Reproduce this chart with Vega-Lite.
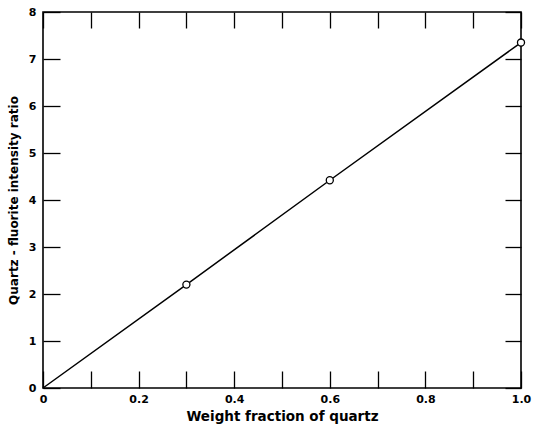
{
  "$schema": "https://vega.github.io/schema/vega-lite/v6.json",
  "width": 478,
  "height": 376,
  "autosize": {"type": "none"},
  "padding": {"left": 43, "top": 12, "right": 17, "bottom": 42},
  "background": "white",
  "config": {
    "view": {"stroke": "black", "strokeWidth": 1.6},
    "axis": {
      "domain": false,
      "grid": false,
      "tickColor": "black",
      "tickWidth": 1.3,
      "labelFont": "DejaVu Sans",
      "labelFontWeight": "bold",
      "labelFontSize": 11,
      "labelColor": "black",
      "titleFont": "DejaVu Sans",
      "titleFontWeight": "bold",
      "titleFontSize": 12,
      "titleColor": "black"
    }
  },
  "data": {
    "values": [
      {"fraction": 0, "ratio": 0, "measured": false},
      {"fraction": 0.3, "ratio": 2.2, "measured": true},
      {"fraction": 0.6, "ratio": 4.42, "measured": true},
      {"fraction": 1.0, "ratio": 7.35, "measured": true}
    ]
  },
  "layer": [
    {
      "mark": {"type": "line", "color": "black", "strokeWidth": 1.5},
      "encoding": {
        "x": {
          "field": "fraction", "type": "quantitative",
          "scale": {"domain": [0, 1], "nice": false, "zero": false},
          "axis": {
            "orient": "bottom",
            "title": "Weight fraction of quartz",
            "titleFontSize": 13.5,
            "values": [0, 0.1, 0.2, 0.3, 0.4, 0.5, 0.6, 0.7, 0.8, 0.9, 1.0],
            "labelExpr": "round(datum.value*10) % 2 == 1 ? '' : (datum.value == 0 ? '0' : format(datum.value, '.1f'))",
            "tickSize": -17,
            "labelPadding": 22,
            "labelFlush": false,
            "titlePadding": 5
          }
        },
        "y": {
          "field": "ratio", "type": "quantitative",
          "scale": {"domain": [0, 8], "nice": false},
          "axis": {
            "orient": "left",
            "title": "Quartz - fluorite intensity ratio",
            "values": [0, 1, 2, 3, 4, 5, 6, 7, 8],
            "tickSize": -17,
            "labelPadding": 24,
            "labelFlush": false,
            "titlePadding": 8
          }
        }
      }
    },
    {
      "transform": [{"filter": "datum.measured"}],
      "mark": {"type": "point", "shape": "circle", "filled": true, "fill": "white", "stroke": "black", "opacity": 1, "strokeOpacity": 1, "strokeWidth": 1.3, "size": 50},
      "encoding": {
        "x": {
          "field": "fraction", "type": "quantitative",
          "axis": {
            "orient": "top",
            "title": null,
            "labels": false,
            "values": [0, 0.1, 0.2, 0.3, 0.4, 0.5, 0.6, 0.7, 0.8, 0.9, 1.0],
            "tickSize": -16
          }
        },
        "y": {
          "field": "ratio", "type": "quantitative",
          "axis": {
            "orient": "right",
            "title": null,
            "labels": false,
            "values": [0, 1, 2, 3, 4, 5, 6, 7, 8],
            "tickSize": -16
          }
        }
      }
    }
  ],
  "resolve": {"axis": {"x": "independent", "y": "independent"}}
}
